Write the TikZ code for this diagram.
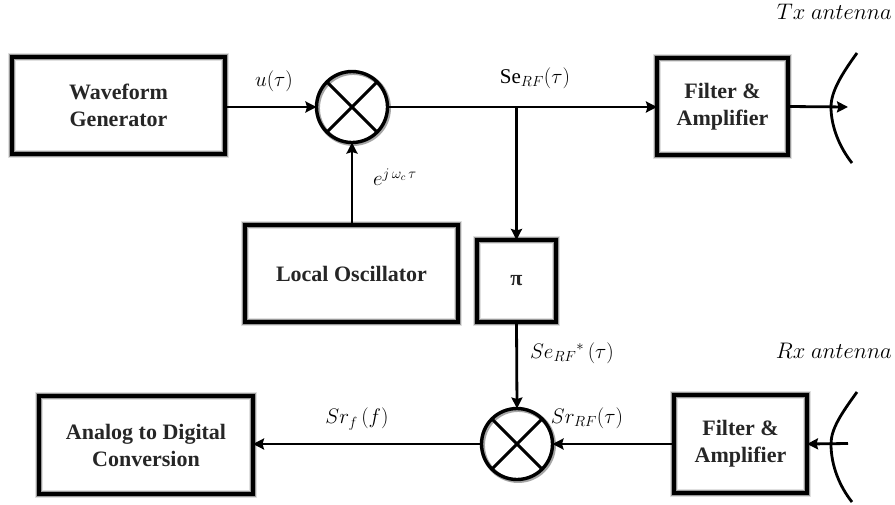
\RequirePackage{fix-cm}
\documentclass[tikz,border=0pt]{standalone}
\usepackage{fontspec}
\setmainfont{Liberation Serif}
\newfontfamily\blockfont{Liberation Serif}[BoldFont={Liberation Serif Bold}]
\usetikzlibrary{arrows.meta}
\tikzset{
  glowbox/.style={preaction={fill=white},preaction={draw=black!12,line width=8.5pt},preaction={draw=black!40,line width=6.5pt}},
  blockbox/.style={glowbox,rectangle,draw=black,line width=4pt,outer sep=0pt,align=center,
    font=\blockfont\fontsize{22}{27}\selectfont\bfseries,text=black!85},
  mixer/.style={preaction={fill=white},preaction={draw=black!35,line width=4.5pt,transform canvas={xshift=1.2pt,yshift=-1.2pt}},
    circle,draw=black,line width=3.4pt,outer sep=0pt,minimum size=71pt,inner sep=0pt},
  crossline/.style={line width=3pt,draw=black},
  wire/.style={line width=2.8pt,draw=black},
  flow/.style={wire,-{Stealth[length=11pt,width=11pt,inset=1.5pt]}},
  dish/.style={line width=2.8pt,draw=black},
  siglabel/.style={font=\fontsize{21}{23}\selectfont,text=black,inner sep=0pt},
  antlabel/.style={font=\fontsize{22.5}{24}\selectfont,text=black,inner sep=0pt,anchor=east},
}
\begin{document}
\begin{tikzpicture}[x=1pt,y=-1pt]
\useasboundingbox (0,0) rectangle (895,504);
\fill[white] (0,0) rectangle (895,504);
% blocks
\node[blockbox,minimum width=213pt,minimum height=97pt] (wave) at (118.5,105.5) {Waveform\\Generator};
\node[blockbox,minimum width=131pt,minimum height=97pt] (ftx) at (722.5,106.5) {Filter \&\\Amplifier};
\node[blockbox,minimum width=213pt,minimum height=97pt] (lo) at (351.5,273.5) {Local Oscillator};
\node[blockbox,minimum width=79pt,minimum height=82pt] (pi) at (516.5,281) {π};
\node[blockbox,minimum width=214pt,minimum height=98pt] (adc) at (146,445) {Analog to Digital\\Conversion};
\node[blockbox,minimum width=133pt,minimum height=98pt] (frx) at (740.5,444) {Filter \&\\Amplifier};
% mixers
\node[mixer] (m1) at (352,107) {};
\node[mixer] (m2) at (517,444) {};
\foreach \m in {m1,m2}{
  \draw[crossline] (\m.north east) -- (\m.south west);
  \draw[crossline] (\m.north west) -- (\m.south east);
}
% antennas
\coordinate (txa) at (857,53);
\coordinate (txm) at (831,107);
\coordinate (txb) at (852,163);
\coordinate (txtip) at (848,107);
\coordinate (rxa) at (857,392);
\coordinate (rxm) at (831,444);
\coordinate (rxb) at (852,502);
\coordinate (rxend) at (848,443.5);
\draw[dish] (txa) .. controls (841,75) and (831,92) .. (txm) .. controls (831,127) and (840,148) .. (txb);
\draw[dish] (rxa) .. controls (841,414) and (831,429) .. (rxm) .. controls (831,466) and (840,487) .. (rxb);
% connectors
\coordinate (tee) at (pi.north |- m1.east);
\draw[flow] (wave.east |- m1.west) -- (m1.west);
\draw[flow] (lo.north -| m1.south) -- (m1.south);
\draw[flow] (m1.east) -- (ftx.west |- m1.east);
\draw[flow] (tee) -- (pi.north);
\draw[flow] (ftx.east) -- (txtip);
\draw[flow] (pi.south) -- (m2.north);
\draw[flow] (frx.west) -- (m2.east);
\draw[flow] (rxend) -- (frx.east);
\draw[flow] (m2.west) -- (adc.east |- m2.west);
% labels
\node[siglabel] (lu) at (274,81) {$u(\tau)$};
\node[siglabel] (lexp) at (395,177) {$e^{j\,\omega_c\,\tau}$};
\node[siglabel] (lse) at (535,78) {$\mathrm{Se}_{RF}(\tau)$};
\node[antlabel] (ltx) at (892,12) {$Tx\ antenna$};
\node[siglabel] (lsec) at (572,353) {$Se_{RF}{}^{*}\,(\tau)$};
\node[antlabel] (lrx) at (892,351) {$Rx\ antenna$};
\node[siglabel] (lsr) at (587,418) {$Sr_{RF}(\tau)$};
\node[siglabel] (lsf) at (357,419) {$Sr_{f}\,(f)$};
\end{tikzpicture}
\end{document}
